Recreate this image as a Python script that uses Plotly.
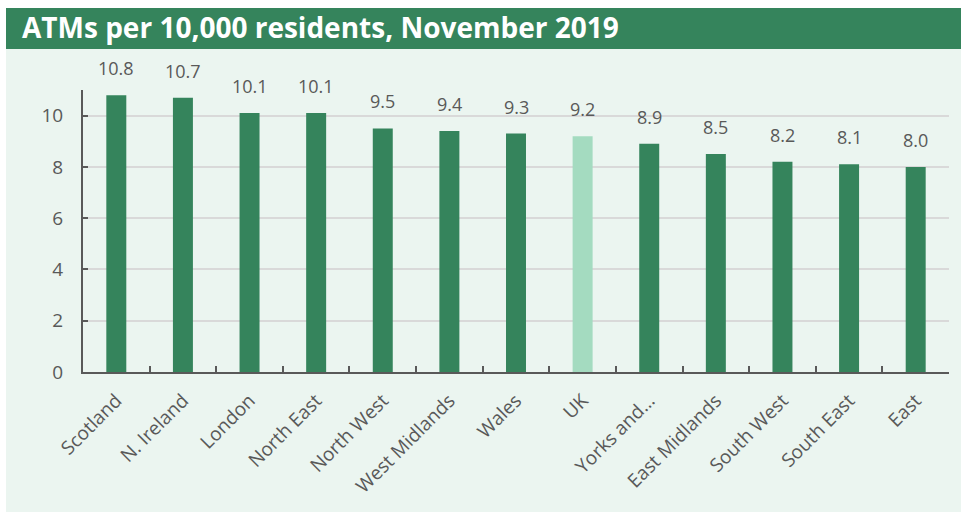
import plotly.graph_objects as go

# ATMs per 10,000 residents by region, November 2019
regions = ["Scotland", "N. Ireland", "London", "North East", "North West",
           "West Midlands", "Wales", "UK", "Yorks and…", "East Midlands",
           "South West", "South East", "East"]
atms_per_10k = [10.8, 10.7, 10.1, 10.1, 9.5, 9.4, 9.3, 9.2, 8.9, 8.5, 8.2, 8.1, 8.0]
y_ticks = [0, 2, 4, 6, 8, 10]

DARK_GREEN = "#35845c"
LIGHT_GREEN = "#a4dbc0"
PANEL_BG = "#ebf5f0"
TEXT_GREY = "#595959"
AXIS_GREY = "#595959"
GRID_GREY = "#d9d9d9"

W, H = 961, 512
L, R, T, B = 83, 12, 90, 140
plot_w = W - L - R
plot_h = H - T - B


def px_x(p):
    return (p - L) / plot_w


def px_y(p):
    return (H - B - p) / plot_h


bar_colors = [LIGHT_GREEN if r == "UK" else DARK_GREEN for r in regions]

fig = go.Figure()
fig.add_trace(go.Bar(
    x=regions,
    y=atms_per_10k,
    marker=dict(color=bar_colors, line=dict(width=0)),
    width=0.3,
    hoverinfo="x+y",
))

# value labels above each bar
for r, v in zip(regions, atms_per_10k):
    fig.add_annotation(
        x=r, y=v, text=f"{v:.1f}", showarrow=False,
        yanchor="bottom", yshift=13,
        font=dict(family="Open Sans", size=18, color=TEXT_GREY),
    )

# light panel behind the chart and dark header band
fig.add_shape(type="rect", xref="paper", yref="paper", layer="below",
              x0=px_x(6), x1=px_x(W), y0=px_y(H), y1=px_y(49),
              fillcolor=PANEL_BG, line=dict(width=0))
fig.add_shape(type="rect", xref="paper", yref="paper", layer="below",
              x0=px_x(6), x1=px_x(W), y0=px_y(49), y1=px_y(8),
              fillcolor=DARK_GREEN, line=dict(width=0))

fig.update_layout(
    width=W, height=H,
    margin=dict(l=L, r=R, t=T, b=B, pad=0),
    paper_bgcolor="white",
    plot_bgcolor="rgba(0,0,0,0)",
    showlegend=False,
    bargap=0.7,
    title=dict(
        text="<b>ATMs per 10,000 residents, November 2019</b>",
        font=dict(family="Open Sans", size=28, color="white"),
        xref="container", yref="container",
        x=22 / W, xanchor="left",
        y=1 - 28 / H, yanchor="middle",
    ),
    xaxis=dict(
        type="category",
        tickangle=-45,
        tickson="boundaries",
        ticks="inside", ticklen=6, tickwidth=1.5, tickcolor=AXIS_GREY,
        showline=True, linecolor=AXIS_GREY, linewidth=2,
        showgrid=False,
        tickfont=dict(family="Open Sans", size=19, color=TEXT_GREY),
        ticklabelstandoff=8,
        fixedrange=True,
    ),
    yaxis=dict(
        range=[0, 11],
        tickvals=y_ticks,
        ticks="inside", ticklen=5, tickwidth=1.5, tickcolor=AXIS_GREY,
        showline=True, linecolor=AXIS_GREY, linewidth=2,
        showgrid=True, gridcolor=GRID_GREY, gridwidth=1.5,
        zeroline=False,
        tickfont=dict(family="Open Sans", size=19, color=TEXT_GREY),
        ticklabelstandoff=14,
        fixedrange=True,
    ),
)

fig.write_html("out.html", config={"displayModeBar": False})
